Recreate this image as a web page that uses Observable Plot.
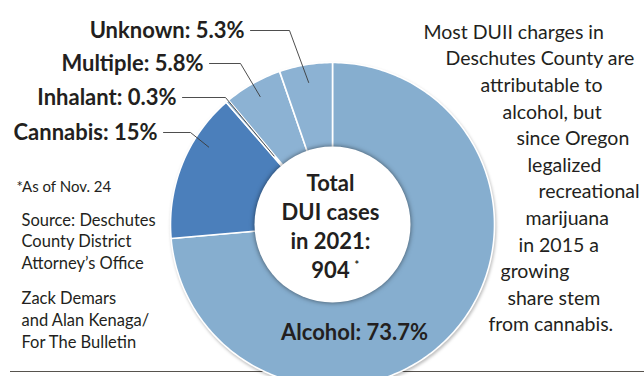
<!DOCTYPE html>
<html>
<head>
<meta charset="utf-8">
<script src="https://cdn.jsdelivr.net/npm/d3@7"></script>
<script src="https://cdn.jsdelivr.net/npm/@observablehq/plot@0.6"></script>
<style>
  html, body { margin: 0; padding: 0; background: #ffffff; }
  #chart { width: 644px; height: 376px; overflow: hidden; }
</style>
</head>
<body>
<div id="chart"></div>
<script>
// ---------------- data ----------------
const categories = ["Alcohol", "Cannabis", "Inhalant", "Multiple", "Unknown"];
const shares = [73.7, 15, 0.3, 5.8, 5.3];
const sliceLabels = ["Alcohol: 73.7%", "Cannabis: 15%", "Inhalant: 0.3%", "Multiple: 5.8%", "Unknown: 5.3%"];
const sliceColors = ["#86aecf", "#4b7fbb", "#86aecf", "#8cb2d3", "#8cb2d3"];
const centerLines = ["Total", "DUI cases", "in 2021:", "904"];
const footnote = "*As of Nov. 24";
const sourceLines = ["Source: Deschutes", "County District", "Attorney\u2019s Office"];
const creditLines = ["Zack Demars", "and Alan Kenaga/", "For The Bulletin"];
const blurbLines = [
  "Most DUII charges in", "Deschutes County are", "attributable to", "alcohol, but",
  "since Oregon", "legalized", "recreational", "marijuana",
  "in 2015 a", "growing", "share stem", "from cannabis."
];

// ---------------- layout (positions, not data) ----------------
const W = 644, H = 376;
const cx = 332, cy = 224, R = 162, R0 = 78;
const FONT = "Lato, 'Open Sans', sans-serif";
const INK = "#231f20";
// callouts for small slices: label row y, label right edge x, elbow x, target radius, angle tweak (deg)
const callouts = {
  Unknown:  {y: 30,  right: 244, elbow: 289, tr: 144, da: 0},
  Multiple: {y: 63,  right: 203, elbow: 240, tr: 147, da: 0},
  Inhalant: {y: 97,  right: 176, elbow: 225, tr: 90,  da: 0},
  Cannabis: {y: 132, right: 157, elbow: 190, tr: 146, da: 10}
};
const blurbX = [423, 445, 480, 502, 516, 527, 538, 525, 518, 500, 507, 488];
const blurbY0 = 32, blurbDy = 26.6;
const centerY0 = 183, centerDy = 29.3;

// ---------------- geometry from data ----------------
const sum = d3.sum(shares);
let acc = 0;
const slices = categories.map((c, i) => {
  const a0 = acc / sum * 2 * Math.PI;
  acc += shares[i];
  const a1 = acc / sum * 2 * Math.PI;
  return {cat: c, a0, a1, mid: (a0 + a1) / 2, color: sliceColors[i], label: sliceLabels[i]};
});
const polar = (a, r) => [cx + r * Math.sin(a), cy - r * Math.cos(a)];
const slicePts = [];
for (const s of slices) {
  const n = Math.max(2, Math.ceil((s.a1 - s.a0) / (Math.PI / 180)));
  const pts = [];
  for (let k = 0; k <= n; k++) pts.push(polar(s.a0 + (s.a1 - s.a0) * k / n, R));
  for (let k = n; k >= 0; k--) pts.push(polar(s.a0 + (s.a1 - s.a0) * k / n, R0 - 2));
  pts.push(pts[0]);
  for (const [x, y] of pts) slicePts.push({cat: s.cat, x, y});
}
const leaderPts = [];
const calloutLabels = [];
for (const s of slices) {
  const c = callouts[s.cat];
  if (!c) continue;
  const [tx, ty] = polar(s.mid + c.da * Math.PI / 180, c.tr);
  leaderPts.push({cat: s.cat, x: c.right + 6, y: c.y});
  leaderPts.push({cat: s.cat, x: c.elbow, y: c.y});
  leaderPts.push({cat: s.cat, x: tx, y: ty});
  calloutLabels.push({text: s.label, x: c.right, y: c.y});
}
const center = centerLines.map((t, i) => ({text: t, x: cx - 2, y: centerY0 + i * centerDy}));
const blurb = blurbLines.map((t, i) => ({text: t, x: blurbX[i], y: blurbY0 + i * blurbDy}));
const notes = [
  {text: footnote, x: 16, y: 187, size: 15},
  ...sourceLines.map((t, i) => ({text: t, x: 21, y: 220 + i * 21.5, size: 16.5})),
  ...creditLines.map((t, i) => ({text: t, x: 21, y: 298 + i * 22, size: 16.5}))
];

const chart = Plot.plot({
  width: W, height: H, margin: 0,
  x: {domain: [0, W], range: [0, W], axis: null},
  y: {domain: [0, H], range: [0, H], axis: null},
  color: {domain: categories, range: sliceColors},
  style: {background: "#ffffff", fontFamily: FONT},
  marks: [
    Plot.ruleY([371], {x1: 10, x2: W, stroke: "#57534e", strokeWidth: 1.2}),
    Plot.line(slicePts, {x: "x", y: "y", z: "cat", fill: "cat", stroke: "#ffffff", strokeWidth: 1.6, strokeLinejoin: "round", ariaDescription: "slices"}),
    Plot.dot([centerLines], {x: () => cx, y: () => cy, r: R0, fill: "#ffffff", stroke: "none", ariaDescription: "hole"}),
    Plot.line(leaderPts, {x: "x", y: "y", z: "cat", stroke: "#3a3a3a", strokeWidth: 0.9}),
    Plot.text(calloutLabels, {x: "x", y: "y", text: "text", textAnchor: "end", fontSize: 22, fontWeight: "bold", fill: INK, fontFamily: FONT}),
    Plot.text([slices[0]], {x: () => cx + 22, y: () => 332, text: "label", fontSize: 22, fontWeight: "bold", fill: INK, fontFamily: FONT}),
    Plot.text(center, {x: "x", y: "y", text: "text", fontSize: 22, fontWeight: "bold", fill: INK, fontFamily: FONT}),
    Plot.text(["*"], {x: () => cx + 22, y: () => 265, text: d => d, textAnchor: "start", fontSize: 11, fontWeight: "bold", fill: INK, fontFamily: FONT}),
    Plot.text(blurb, {x: "x", y: "y", text: "text", textAnchor: "start", fontSize: 19.5, fill: INK, fontFamily: FONT}),
    Plot.text(notes, {x: "x", y: "y", text: "text", textAnchor: "start", fontSize: d => d.size, fill: INK, fontFamily: FONT})
  ]
});
const sl = chart.querySelector('[aria-description="slices"]');
if (sl) sl.setAttribute("style", "filter: drop-shadow(1px 2px 1.5px rgba(0,0,0,0.25))");
const hole = chart.querySelector('[aria-description="hole"]');
if (hole) hole.setAttribute("style", "filter: drop-shadow(0px 0px 2.5px rgba(0,0,0,0.55))");
document.getElementById("chart").appendChild(chart);
</script>
</body>
</html>
